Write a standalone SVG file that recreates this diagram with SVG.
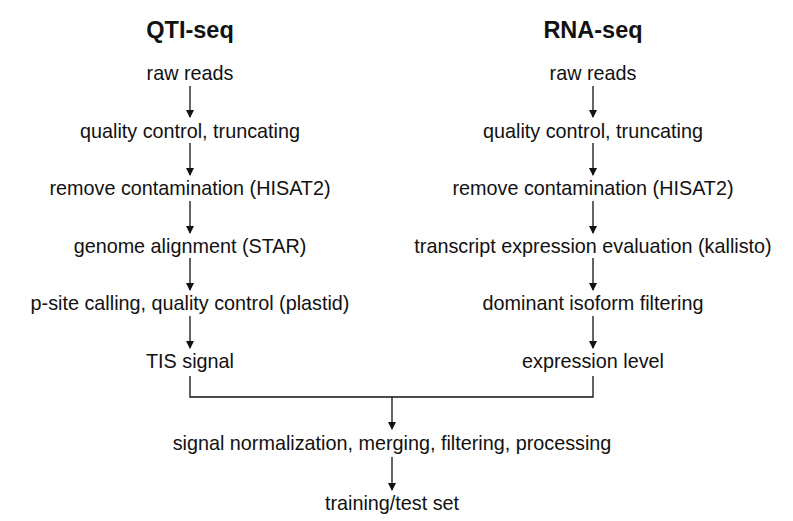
<svg xmlns="http://www.w3.org/2000/svg" width="793" height="521" viewBox="0 0 793 521">
<style>
text{font-family:"Liberation Sans",Arial,sans-serif;fill:#111;text-anchor:middle;font-size:19.8px}
.title{font-weight:bold;font-size:23.5px}
.c{stroke:#111;stroke-width:1.3;fill:none}
</style>
<defs>
<marker id="ah" markerWidth="8" markerHeight="10" refX="7" refY="4" orient="auto" markerUnits="userSpaceOnUse">
<path d="M0,0 L8,4 L0,8 z" fill="#111"/>
</marker>
</defs>
<rect width="793" height="521" fill="#fff"/>
<text class="title" x="190" y="38">QTI-seq</text>
<text class="title" x="593" y="38">RNA-seq</text>
<g id="q1"><text x="190" y="80">raw reads</text></g>
<g id="q2"><text x="190" y="138">quality control, truncating</text></g>
<g id="q3"><text x="190" y="195">remove contamination (HISAT2)</text></g>
<g id="q4"><text x="190" y="253">genome alignment (STAR)</text></g>
<g id="q5"><text x="190" y="310">p-site calling, quality control (plastid)</text></g>
<g id="q6"><text x="190" y="368">TIS signal</text></g>
<g id="r1"><text x="593" y="80">raw reads</text></g>
<g id="r2"><text x="593" y="138">quality control, truncating</text></g>
<g id="r3"><text x="593" y="195">remove contamination (HISAT2)</text></g>
<g id="r4"><text x="593" y="253">transcript expression evaluation (kallisto)</text></g>
<g id="r5"><text x="593" y="310">dominant isoform filtering</text></g>
<g id="r6"><text x="593" y="368">expression level</text></g>
<g id="m1"><text x="392" y="450">signal normalization, merging, filtering, processing</text></g>
<g id="m2"><text x="392" y="510">training/test set</text></g>
<g id="connectors" class="c">
<line class="c" x1="190" y1="86" x2="190" y2="117" marker-end="url(#ah)"/>
<line class="c" x1="190" y1="143" x2="190" y2="175" marker-end="url(#ah)"/>
<line class="c" x1="190" y1="201" x2="190" y2="233" marker-end="url(#ah)"/>
<line class="c" x1="190" y1="258" x2="190" y2="290" marker-end="url(#ah)"/>
<line class="c" x1="190" y1="316" x2="190" y2="348" marker-end="url(#ah)"/>
<line class="c" x1="593" y1="86" x2="593" y2="117" marker-end="url(#ah)"/>
<line class="c" x1="593" y1="143" x2="593" y2="175" marker-end="url(#ah)"/>
<line class="c" x1="593" y1="201" x2="593" y2="233" marker-end="url(#ah)"/>
<line class="c" x1="593" y1="258" x2="593" y2="290" marker-end="url(#ah)"/>
<line class="c" x1="593" y1="316" x2="593" y2="348" marker-end="url(#ah)"/>
<path class="c" d="M190,376 V397 H593 V376"/>
<line class="c" x1="392" y1="397" x2="392" y2="429" marker-end="url(#ah)"/>
<line class="c" x1="392" y1="457" x2="392" y2="490" marker-end="url(#ah)"/>
</g>
</svg>
